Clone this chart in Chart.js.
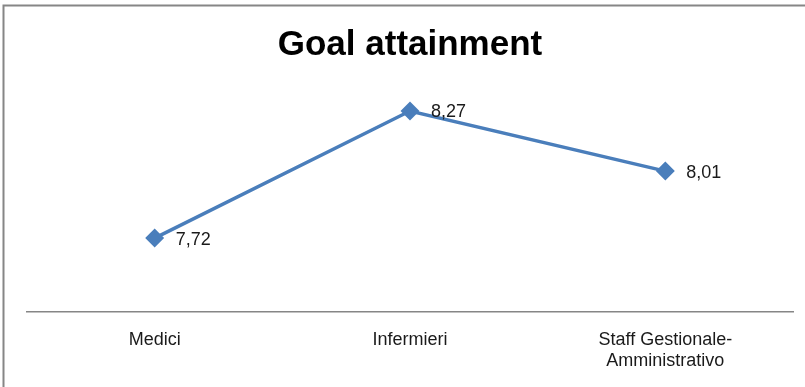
<!DOCTYPE html>
<html>
<head>
<meta charset="utf-8">
<script src="https://cdn.jsdelivr.net/npm/chart.js@4/dist/chart.umd.min.js"></script>
<style>
html,body{margin:0;padding:0;background:#fff;}
#wrap{width:805px;height:387px;position:relative;}
</style>
</head>
<body>
<div id="wrap"><canvas id="c" width="805" height="387"></canvas></div>
<script>
const categories = [["Medici"], ["Infermieri"], ["Staff Gestionale-", "Amministrativo"]];
const goalValues = [7.72, 8.27, 8.01];
const valueLabels = ["7,72", "8,27", "8,01"];
const chartTitle = "Goal attainment";

const frame = {
  id: 'frame',
  beforeDraw(chart) {
    const ctx = chart.ctx;
    ctx.save();
    ctx.fillStyle = '#ffffff';
    ctx.fillRect(0, 0, chart.width, chart.height);
    ctx.strokeStyle = '#868686';
    ctx.lineWidth = 2;
    ctx.beginPath();
    ctx.moveTo(3.5, chart.height + 5);
    ctx.lineTo(3.5, 5.5);
    ctx.lineTo(chart.width + 5, 5.5);
    ctx.stroke();
    ctx.restore();
  }
};

const pointLabels = {
  id: 'pointLabels',
  afterDatasetsDraw(chart) {
    const ctx = chart.ctx;
    const meta = chart.getDatasetMeta(0);
    ctx.save();
    ctx.font = '18px "Liberation Sans", Arial, sans-serif';
    ctx.fillStyle = '#1a1a1a';
    ctx.textBaseline = 'middle';
    ctx.textAlign = 'left';
    meta.data.forEach((pt, i) => {
      ctx.fillText(valueLabels[i], pt.x + 21, pt.y + 1.5);
    });
    ctx.restore();
  }
};

new Chart(document.getElementById('c'), {
  type: 'line',
  data: {
    labels: categories,
    datasets: [{
      data: goalValues,
      borderColor: '#4a7ebb',
      backgroundColor: '#4a7ebb',
      borderWidth: 3.5,
      pointStyle: 'rectRot',
      pointRadius: 7,
      pointHoverRadius: 7,
      tension: 0,
      fill: false
    }]
  },
  options: {
    responsive: false,
    animation: false,
    events: [],
    layout: { padding: { top: 8, left: 27, right: 12, bottom: 0 } },
    plugins: {
      legend: { display: false },
      tooltip: { enabled: false },
      title: {
        display: true,
        text: chartTitle,
        color: '#000000',
        font: { family: '"Liberation Sans", Arial, sans-serif', size: 35, weight: 'bold', lineHeight: 1.2 },
        padding: { top: 16, bottom: 15 }
      }
    },
    scales: {
      x: {
        offset: true,
        grid: { display: false, drawTicks: false },
        border: { display: true, color: '#868686', width: 1.5 },
        afterFit(scale) { scale.height = 75; },
        ticks: {
          color: '#1a1a1a',
          padding: 18,
          maxRotation: 0,
          autoSkip: false,
          font: { family: '"Liberation Sans", Arial, sans-serif', size: 18, lineHeight: 1.15 }
        }
      },
      y: {
        display: false,
        min: 7.4,
        max: 8.4
      }
    }
  },
  plugins: [frame, pointLabels]
});
</script>
</body>
</html>
